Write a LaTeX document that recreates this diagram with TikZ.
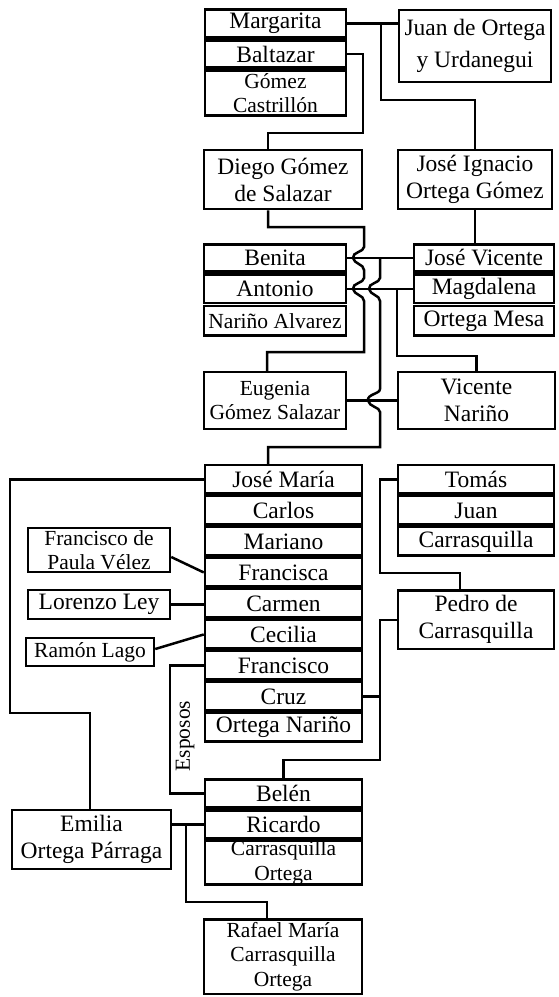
\documentclass[tikz,border=0pt]{standalone}
\usepackage{fontspec}
\setmainfont{Liberation Serif}
\begin{document}
\begin{tikzpicture}[x=1pt,y=-1pt,
  cell/.style={draw,line width=2.5pt,inner sep=0pt,align=center},
  big/.style={font=\fontsize{23.5}{27}\selectfont},
  small/.style={font=\fontsize{21.5}{24.5}\selectfont},
  link/.style={line width=2.5pt,line join=miter}]
% a box given by its left, top, right and bottom edges
\newcommand{\famcell}[7]{%
  \node[cell,#6,minimum width={#4-#2},minimum height={#5-#3}] (#1) at ({(#2+#4)/2},{(#3+#5)/2}) {#7};}
\useasboundingbox (0,0) rectangle (558,997);

% --- top generation
\famcell{marg}{205}{9.5}{346}{37.5}{big}{Margarita}
\famcell{balt}{205}{40.5}{346}{67.5}{big}{Baltazar}
\famcell{gomc}{205}{70.5}{346}{115.5}{small}{Gómez\\Castrillón}
\famcell{juan}{399}{10}{551}{82}{font=\fontsize{23.5}{32}\selectfont}{Juan de Ortega\\y Urdanegui}

\famcell{diego}{204}{150}{362}{209}{big}{Diego Gómez\\de Salazar}
\famcell{jign}{398}{150}{552}{209}{big}{José Ignacio\\Ortega Gómez}

\famcell{benita}{204}{244.5}{346}{271.5}{big}{Benita}
\famcell{antonio}{204}{274.5}{346}{303}{big}{Antonio}
\famcell{narino}{204}{306}{346}{335.5}{small}{Nariño Alvarez}
\famcell{jvic}{414}{244.5}{554}{271.5}{big}{José Vicente}
\famcell{magd}{414}{274.5}{554}{303}{big}{Magdalena}
\famcell{omesa}{414}{306}{554}{335.5}{big}{Ortega Mesa}

\famcell{eug}{204}{372}{346}{429}{small}{Eugenia\\Gómez Salazar}
\famcell{vnar}{398}{372}{555}{429}{big}{Vicente\\Nariño}

% --- children of José Vicente and Magdalena
\famcell{jmaria}{205}{465.2}{362}{493.7}{big}{José María}
\famcell{carlos}{205}{496.2}{362}{524.7}{big}{Carlos}
\famcell{mariano}{205}{527.2}{362}{555.7}{big}{Mariano}
\famcell{francisca}{205}{558.2}{362}{586.7}{big}{Francisca}
\famcell{carmen}{205}{589.2}{362}{617.7}{big}{Carmen}
\famcell{cecilia}{205}{620.2}{362}{648.7}{big}{Cecilia}
\famcell{francisco}{205}{651.2}{362}{679.7}{big}{Francisco}
\famcell{cruz}{205}{682.2}{362}{710.7}{big}{Cruz}
\famcell{ortnar}{205}{713.2}{362}{741.7}{big}{Ortega Nariño}

\famcell{tomas}{398}{465.2}{554}{493.7}{big}{Tomás}
\famcell{juanc}{398}{496.2}{554}{524.7}{big}{Juan}
\famcell{carr}{398}{527.2}{554}{555.7}{big}{Carrasquilla}
\famcell{pedro}{398}{590.5}{554}{649}{big}{Pedro de\\Carrasquilla}

\famcell{fpv}{28}{528}{170}{572}{small}{Francisco de\\Paula Vélez}
\famcell{lorenzo}{28}{590}{170}{619}{big}{Lorenzo Ley}
\famcell{ramon}{26}{638}{154}{666}{small}{Ramón Lago}

% --- children of Cruz and Pedro
\famcell{belen}{205}{779.5}{362}{807.5}{big}{Belén}
\famcell{ricardo}{205}{810.5}{362}{838.5}{big}{Ricardo}
\famcell{carort}{205}{841.5}{362}{883.8}{small}{Carrasquilla\\Ortega}
\famcell{emilia}{12}{810}{171}{869}{big}{Emilia\\Ortega Párraga}
\famcell{rafael}{204}{919.5}{362}{993.8}{small}{Rafael María\\Carrasquilla\\Ortega}

\node[small,rotate=90,inner sep=0pt] (esposos) at (185,736) {Esposos};

% --- bend points
\coordinate (mj) at (381,23.5);
\coordinate (mjb) at (381,100);
\coordinate (bd1) at (363,133);
\coordinate (bd2) at (268,133);
\coordinate (dd1) at (268,227);
\coordinate (dd2) at (267,352);
\coordinate (bj) at (380,258);
\coordinate (jm1) at (268,447);
\coordinate (ab) at (397,288.75);
\coordinate (ab2) at (397,356);
\coordinate (em1) at (10,713);
\coordinate (em2) at (90,713);
\coordinate (tp1) at (380,573);
\coordinate (tp2) at (460,573);
\coordinate (pb) at (380,760);
\coordinate (er) at (186,824.5);
\coordinate (er1) at (186,902);
\coordinate (er2) at (267,902);

% --- connectors (vertical lines hop leftwards over the marriage lines)
\draw[link] (marg.east) -- (marg.east -| juan.west);
\draw[link] (mj) -- (mjb) -| (jign.north);
\draw[link] (balt.east) -| (bd1) -- (bd2) -- (bd2 |- diego.north);
\draw[link] (dd1 |- diego.south) -- (dd1) -- (364,227) -- (364,247)
  .. controls (364,252) and (352,252) .. (353,258)
  .. controls (354,264) and (364,264) .. (364,270) -- (364,278)
  .. controls (364,283) and (352,283) .. (353,289)
  .. controls (354,295) and (364,295) .. (364,301) -- (364,352) -- (dd2) -- (dd2 |- eug.north);
\draw[link] (jign.south) -- (jign.south |- jvic.north);
\draw[link] (benita.east) -- (jvic.west);
\draw[link] (antonio.east) -- (magd.west);
\draw[link] (bj) -- (380,278)
  .. controls (380,283) and (368,283) .. (369,289)
  .. controls (370,295) and (380,295) .. (380,301) -- (380,389)
  .. controls (380,394) and (367,394) .. (368,400.5)
  .. controls (369,407) and (380,407) .. (380,412) -- (380,447) -- (jm1) -- (jm1 |- jmaria.north);
\draw[link] (ab) -- (ab2) -| (vnar.north);
\draw[link] (eug.east) -- (vnar.west);
\draw[link] (jmaria.west) -| (em1) -- (em2) -- (em2 |- emilia.north);
\draw[link] ([yshift=-7pt]fpv.east) -- (francisca.west);
\draw[link] (lorenzo.east) -- (lorenzo.east -| carmen.west);
\draw[link] ([yshift=3pt]ramon.east) -- (cecilia.west);
\draw[link] (francisco.west) -- ++(-34,0) |- (belen.west);
\draw[link] (tomas.west) -| (tp1) -- (tp2) -- (tp2 |- pedro.north);
\draw[link] (pedro.west) -| (pb) -| (belen.north);
\draw[link] (cruz.east) -- (cruz.east -| pb);
\draw[link] (ricardo.west) -- (ricardo.west -| emilia.east);
\draw[link] (er) -- (er1) -- (er2) -- (er2 |- rafael.north);
\end{tikzpicture}
\end{document}
